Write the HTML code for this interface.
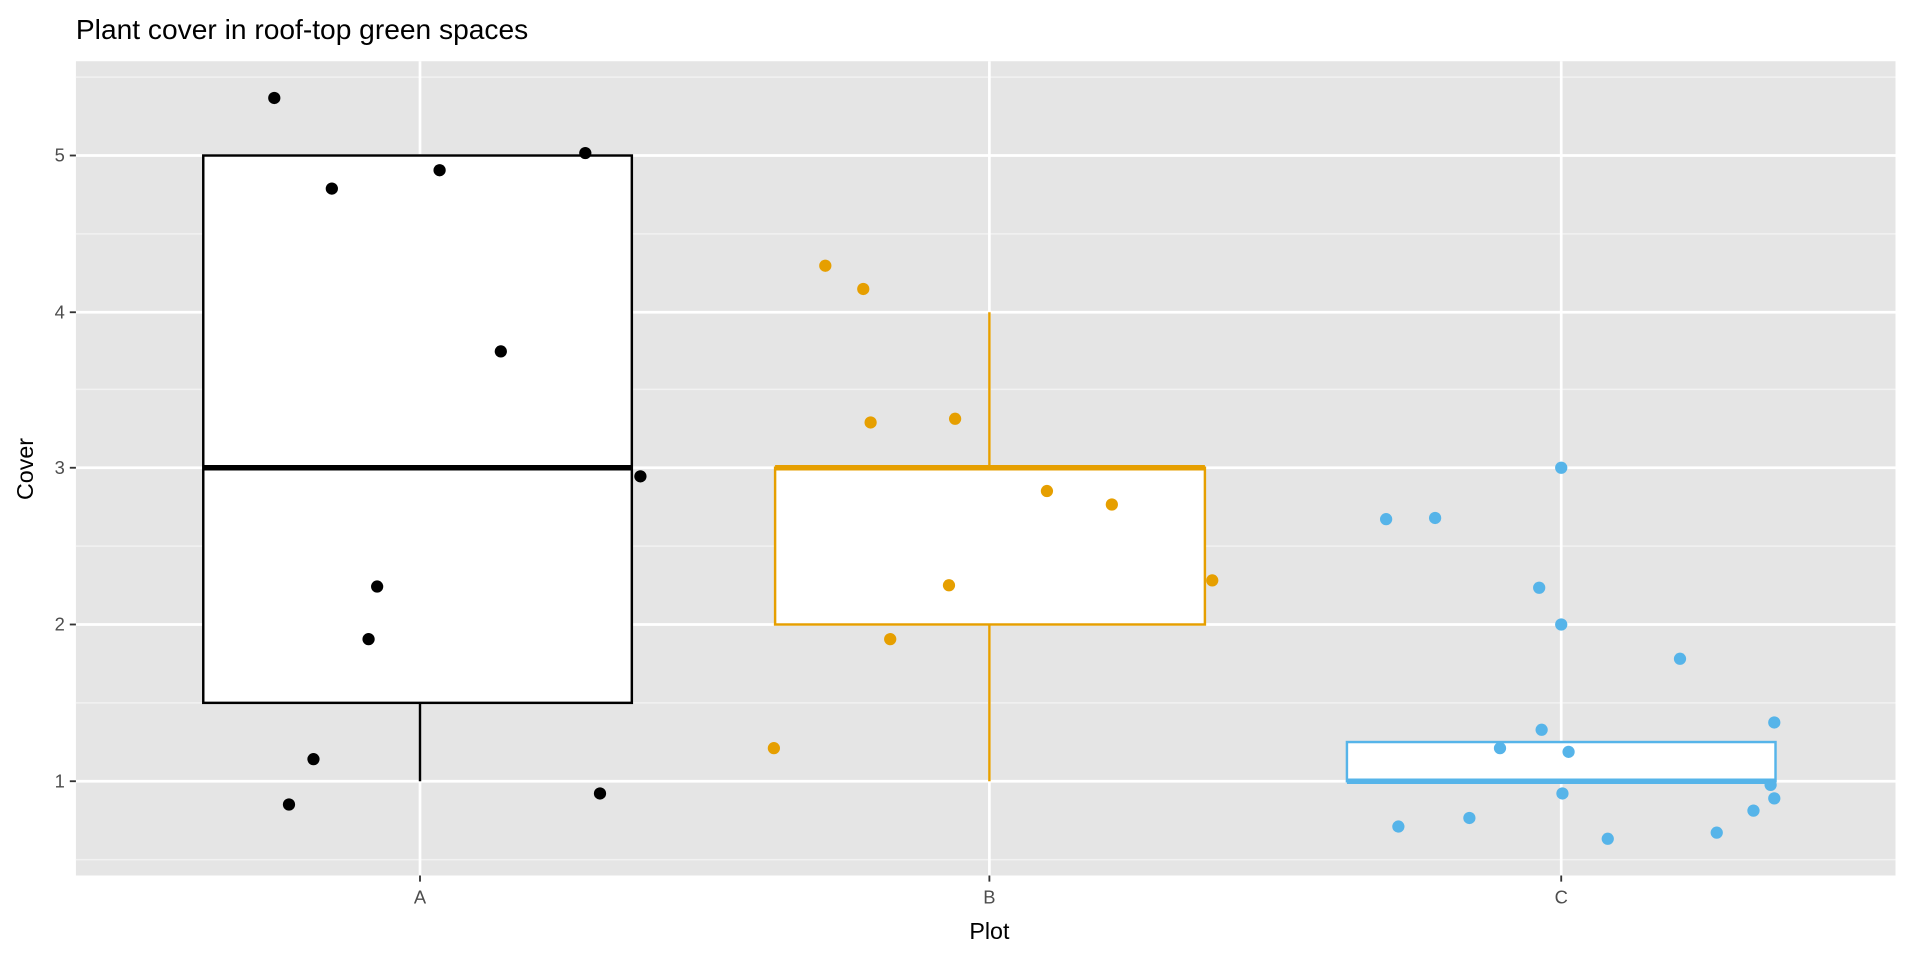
<!DOCTYPE html>
<html><head><meta charset="utf-8"><style>
html,body{margin:0;padding:0;background:#fff;}
svg{display:block;font-family:"Liberation Sans",Arial,sans-serif;}
</style></head><body>
<svg width="1920" height="960" viewBox="0 0 1568 784" preserveAspectRatio="none">
<rect width="1568" height="784" fill="#fff"/>
<text x="62" y="32" font-size="23" fill="#000">Plant cover in roof-top green spaces</text>
<rect x="62" y="50" width="1486" height="665" fill="#E5E5E5"/>
<g stroke="#F2F2F2" stroke-width="1.2">
<line x1="62" x2="1548" y1="702" y2="702"/><line x1="62" x2="1548" y1="574" y2="574"/><line x1="62" x2="1548" y1="446" y2="446"/><line x1="62" x2="1548" y1="318" y2="318"/><line x1="62" x2="1548" y1="191" y2="191"/><line x1="62" x2="1548" y1="63" y2="63"/>
</g>
<g stroke="#fff" stroke-width="2.2">
<line x1="62" x2="1548" y1="638" y2="638"/><line x1="62" x2="1548" y1="510" y2="510"/><line x1="62" x2="1548" y1="382" y2="382"/><line x1="62" x2="1548" y1="255" y2="255"/><line x1="62" x2="1548" y1="127" y2="127"/>
<line x1="343" x2="343" y1="50" y2="715"/><line x1="808" x2="808" y1="50" y2="715"/><line x1="1275" x2="1275" y1="50" y2="715"/>
</g>
<line x1="343" x2="343" y1="574" y2="638" stroke="#000" stroke-width="2"/>
<rect x="166" y="127" width="350" height="447" fill="#fff" stroke="#000" stroke-width="2"/>
<line x1="166" x2="516" y1="382" y2="382" stroke="#000" stroke-width="4.5"/>
<line x1="808" x2="808" y1="255" y2="382" stroke="#E69F00" stroke-width="2"/>
<line x1="808" x2="808" y1="510" y2="638" stroke="#E69F00" stroke-width="2"/>
<rect x="633" y="382" width="351" height="128" fill="#fff" stroke="#E69F00" stroke-width="2"/>
<line x1="633" x2="984" y1="382" y2="382" stroke="#E69F00" stroke-width="4.5"/>
<rect x="1100" y="606" width="350" height="32" fill="#fff" stroke="#56B4E9" stroke-width="2"/>
<line x1="1100" x2="1450" y1="638" y2="638" stroke="#56B4E9" stroke-width="4.5"/>
<g fill="#000">
<circle cx="224" cy="80" r="5"/><circle cx="271" cy="154" r="5"/><circle cx="359" cy="139" r="5"/><circle cx="478" cy="125" r="5"/><circle cx="409" cy="287" r="5"/><circle cx="523" cy="389" r="5"/><circle cx="308" cy="479" r="5"/><circle cx="301" cy="522" r="5"/><circle cx="256" cy="620" r="5"/><circle cx="236" cy="657" r="5"/><circle cx="490" cy="648" r="5"/>
</g>
<g fill="#E69F00">
<circle cx="674" cy="217" r="5"/><circle cx="705" cy="236" r="5"/><circle cx="711" cy="345" r="5"/><circle cx="780" cy="342" r="5"/><circle cx="855" cy="401" r="5"/><circle cx="908" cy="412" r="5"/><circle cx="775" cy="478" r="5"/><circle cx="727" cy="522" r="5"/><circle cx="990" cy="474" r="5"/><circle cx="632" cy="611" r="5"/>
</g>
<g fill="#56B4E9">
<circle cx="1132" cy="424" r="5"/><circle cx="1172" cy="423" r="5"/><circle cx="1275" cy="382" r="5"/><circle cx="1257" cy="480" r="5"/><circle cx="1275" cy="510" r="5"/><circle cx="1372" cy="538" r="5"/><circle cx="1225" cy="611" r="5"/><circle cx="1259" cy="596" r="5"/><circle cx="1281" cy="614" r="5"/><circle cx="1449" cy="590" r="5"/><circle cx="1276" cy="648" r="5"/><circle cx="1446" cy="641" r="5"/><circle cx="1449" cy="652" r="5"/><circle cx="1432" cy="662" r="5"/><circle cx="1402" cy="680" r="5"/><circle cx="1313" cy="685" r="5"/><circle cx="1200" cy="668" r="5"/><circle cx="1142" cy="675" r="5"/>
</g>
<g stroke="#333" stroke-width="1.5">
<line x1="57" x2="62" y1="638" y2="638"/><line x1="57" x2="62" y1="510" y2="510"/><line x1="57" x2="62" y1="382" y2="382"/><line x1="57" x2="62" y1="255" y2="255"/><line x1="57" x2="62" y1="127" y2="127"/>
<line x1="343" x2="343" y1="715" y2="720"/><line x1="808" x2="808" y1="715" y2="720"/><line x1="1275" x2="1275" y1="715" y2="720"/>
</g>
<g font-size="15" fill="#4D4D4D" text-anchor="end">
<text x="53" y="643">1</text><text x="53" y="515">2</text><text x="53" y="387">3</text><text x="53" y="260">4</text><text x="53" y="132">5</text>
</g>
<g font-size="15" fill="#4D4D4D" text-anchor="middle">
<text x="343" y="738">A</text><text x="808" y="738">B</text><text x="1275" y="738">C</text>
</g>
<text x="808" y="767" font-size="19" text-anchor="middle" fill="#000">Plot</text>
<text transform="translate(27,383) rotate(-90)" font-size="19" text-anchor="middle" fill="#000">Cover</text>
</svg>
</body></html>
